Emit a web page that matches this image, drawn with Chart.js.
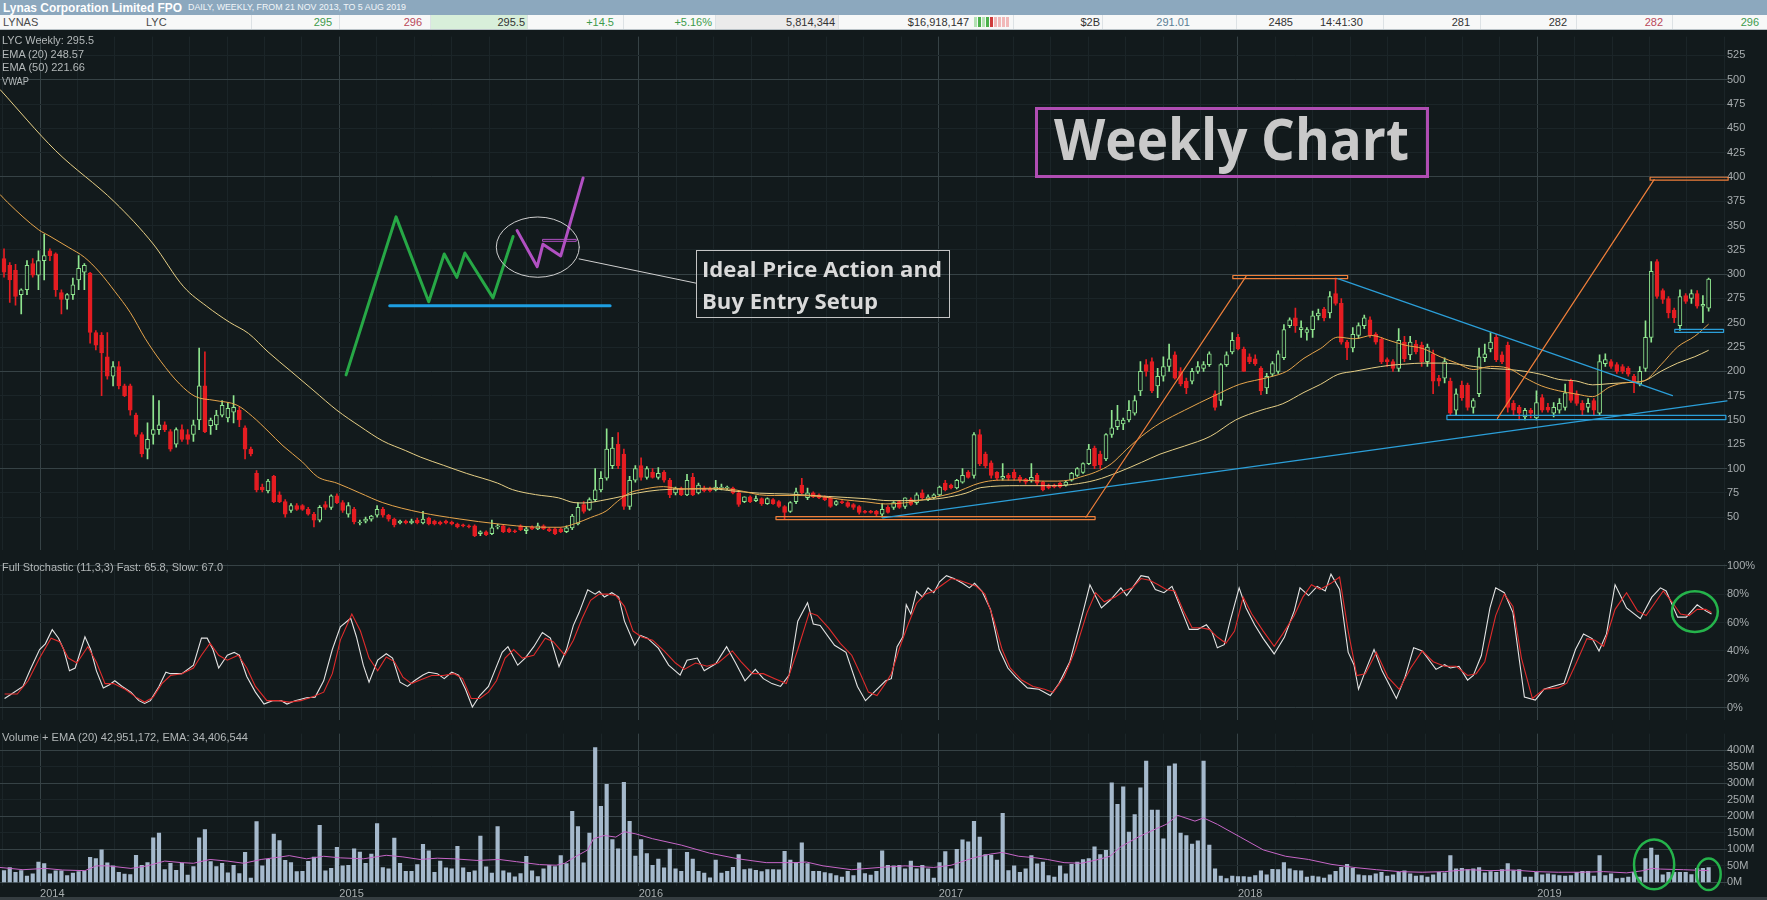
<!DOCTYPE html>
<html>
<head>
<meta charset="utf-8">
<title>LYC weekly</title>
<script src="https://cdn.jsdelivr.net/npm/chart.js@4.4.1/dist/chart.umd.min.js"></script>
<style>
  html, body { margin: 0; padding: 0; }
  body { width: 1767px; height: 900px; overflow: hidden; position: relative; background: #121a1c;
         font-family: 'Liberation Sans Narrow', 'Arial Narrow', 'Liberation Sans', sans-serif; }
  canvas { position: absolute; left: 0; }
  #price { top: 30px; }
  #stoch { top: 557px; }
  #vol { top: 727px; }
  #hdr { position: absolute; left: 0; top: 0; width: 1767px; height: 15px; background: #8ca8be; }
  #ttl { position: absolute; left: 3px; top: 0; font-weight: bold; font-size: 13px; line-height: 15px; color: #fff; }
  #sub { position: absolute; left: 188px; top: 0; font-size: 9px; line-height: 15px; color: #f2f6f9; }
  #quote { position: absolute; left: 0; top: 15px; width: 1767px; height: 14px; background: #f7f8f8;
           border-bottom: 1px solid #b9c2c7; font-size: 11px; color: #4a4a4a; }
  #quote span { position: absolute; top: 0; line-height: 14px; white-space: nowrap; }
  #quote i { position: absolute; top: 0; width: 1px; height: 14px; background: #dde2e5; }
  #quote b { position: absolute; top: 2px; width: 3px; height: 10px; }
  .fit { display: inline-block; white-space: nowrap; transform-origin: 0 50%; }
  .lbl { position: absolute; left: 2px; font-size: 11px; line-height: 13px; color: #b3b8b9; }
  #wk { position: absolute; left: 1035px; top: 107px; width: 388px; height: 65px; border: 3px solid #b04db3; }
  #wk span { position: absolute; left: 16px; top: 0; font: bold 57px/57px 'Open Sans', 'Lato', sans-serif; color: #c9c9c9; }
  #note { position: absolute; left: 696px; top: 250px; width: 252px; height: 66px; border: 1px solid #c4c4c4; }
  #note span { position: absolute; left: 5px; font: bold 22px/32px 'Open Sans', 'Lato', sans-serif; color: #dadada; }
  #foot { position: absolute; left: 0; top: 897px; width: 1767px; height: 3px; background: #353d41; }
</style>
</head>
<body>
<div id="hdr">
  <span id="ttl" class="fit" data-w="179">Lynas Corporation Limited FPO</span>
  <span id="sub" class="fit" data-w="218">DAILY, WEEKLY, FROM 21 NOV 2013, TO 5 AUG 2019</span>
</div>
<div id="quote">
  <div style="position:absolute;left:430px;top:0;width:97px;height:14px;background:#d8efda"></div>
  <div style="position:absolute;left:715px;top:0;width:123px;height:14px;background:#ebebeb"></div>
  <i style="left:251px"></i><i style="left:339px"></i><i style="left:430px"></i><i style="left:527px"></i>
  <i style="left:623px"></i><i style="left:715px"></i><i style="left:838px"></i><i style="left:1013px"></i>
  <i style="left:1102px"></i><i style="left:1236px"></i><i style="left:1383px"></i><i style="left:1480px"></i>
  <i style="left:1576px"></i><i style="left:1672px"></i>
  <span style="left:3px">LYNAS</span>
  <span style="left:146px">LYC</span>
  <span style="right:1435px;color:#3e9b4c">295</span>
  <span style="right:1345px;color:#b9485a">296</span>
  <span style="right:1242px;color:#333">295.5</span>
  <span style="right:1153px;color:#3e9b4c">+14.5</span>
  <span style="right:1055px;color:#3e9b4c">+5.16%</span>
  <span style="right:932px;color:#333">5,814,344</span>
  <span style="right:798px;color:#333">$16,918,147</span>
  <b style="left:974px;background:#b4e2b4"></b><b style="left:978px;background:#4bb04b"></b>
  <b style="left:982px;background:#b4e2b4"></b><b style="left:986px;background:#4bb04b"></b>
  <b style="left:990px;background:#cf3b3b"></b><b style="left:994px;background:#f1b8b8"></b>
  <b style="left:998px;background:#f1b8b8"></b><b style="left:1002px;background:#f1b8b8"></b>
  <b style="left:1006px;background:#f1b8b8"></b>
  <span style="right:667px;color:#333">$2B</span>
  <span style="right:577px;color:#5b7e95">291.01</span>
  <span style="right:474px;color:#333">2485</span>
  <span style="left:1320px;color:#333">14:41:30</span>
  <span style="right:297px;color:#333">281</span>
  <span style="right:200px;color:#333">282</span>
  <span style="right:104px;color:#b9485a">282</span>
  <span style="right:8px;color:#3e9b4c">296</span>
</div>

<canvas id="price" width="1767" height="527"></canvas>
<canvas id="stoch" width="1767" height="170"></canvas>
<canvas id="vol" width="1767" height="173"></canvas>

<div class="lbl" style="top:34px"><span class="fit" data-w="92">LYC Weekly: 295.5</span></div>
<div class="lbl" style="top:48px"><span class="fit" data-w="82">EMA (20) 248.57</span></div>
<div class="lbl" style="top:61px"><span class="fit" data-w="83">EMA (50) 221.66</span></div>
<div class="lbl" style="top:75px"><span class="fit" data-w="27">VWAP</span></div>
<div class="lbl" style="top:561px"><span class="fit" data-w="221">Full Stochastic (11,3,3) Fast: 65.8, Slow: 67.0</span></div>
<div class="lbl" style="top:731px"><span class="fit" data-w="246">Volume + EMA (20) 42,951,172, EMA: 34,406,544</span></div>

<div id="wk"><span class="fit" data-w="355">Weekly Chart</span></div>
<div id="note">
  <span class="fit" data-w="240" style="top:1px">Ideal Price Action and</span>
  <span class="fit" data-w="176" style="top:33px">Buy Entry Setup</span>
</div>
<div id="foot"></div>

<script>
// weekly bars, week 0 = w/c 18 Nov 2013, week 297 = w/c 5 Aug 2019 (prices in cents)
const opens = [
  316,309,304,279,284,311,299,314,324,321, 281,274,279,294,302,301,240,237,215,195,
  205,185,185,155,135,120,135,140,145,138, 125,140,135,135,150,185,144,145,155,152,
  158,160,142,120,95,81,77,92,73,66, 57,62,62,58,53,47,63,60,72,65,
  53,58,44,46,48,52,58,52,48,44, 46,44,47,44,49,46,45,46,45,43,
  42,41,41,33,35,33,40,41,38,36, 41,36,40,38,41,38,38,38,35,39,
  43,63,58,68,78,90,103,125,115,61, 88,103,91,96,91,96,88,75,80,73,
  91,75,80,79,78,80,80,80,75,66, 71,67,69,64,68,66,61,56,66,83,
  70,75,73,71,70,63,66,65,63,61, 56,56,56,53,60,60,66,61,68,65,
  75,68,70,73,85,83,80,86,96,93, 135,115,106,96,90,93,96,91,89,88,
  93,86,83,83,85,83,88,93,96,105, 121,115,110,135,143,146,150,157,180,207,
  210,185,195,205,217,200,190,190,200,203, 207,177,170,207,220,235,223,215,213,203,
  183,197,200,214,247,255,243,240,243,257, 264,260,280,270,230,224,237,247,253,238,
  233,212,210,203,230,217,228,227,210,218, 193,193,190,160,186,186,163,177,214,223,
  235,217,227,167,163,153,160,152,173,163, 157,160,163,190,177,167,163,170,157,208,
  210,207,205,203,195,187,203,235,313,283, 275,263,247,278,275,280,267,265
];
const highs = [
  326,312,310,285,314,316,324,341,326,322, 284,280,296,319,311,302,242,240,240,210,
  210,187,187,157,137,147,175,170,148,140, 142,145,140,150,224,220,152,160,170,168,
  175,163,144,122,98,84,89,93,76,68, 64,64,63,60,55,62,66,73,74,67,
  65,60,47,50,52,62,60,53,49,47, 47,48,49,56,50,47,46,47,46,44,
  43,42,42,36,36,47,43,42,39,37, 42,40,41,44,42,39,39,39,41,53,
  65,66,70,100,97,141,132,137,120,92, 103,111,102,100,101,98,90,81,81,94,
  95,85,82,81,88,84,82,81,76,71, 72,72,70,70,69,67,62,66,80,90,
  80,76,74,72,71,67,67,66,64,62, 57,57,57,64,62,66,67,70,70,75,
  78,73,74,82,88,84,89,100,98,137, 140,117,108,97,105,95,99,93,90,105,
  95,87,84,84,86,87,96,101,106,125, 123,118,136,160,165,152,170,175,210,212,
  214,203,215,228,220,204,193,203,210,210, 220,180,208,220,240,238,225,218,217,205,
  198,210,221,248,255,265,252,245,262,264, 266,282,296,275,232,245,250,258,256,240,
  235,214,212,244,236,236,232,230,228,222, 196,214,193,182,190,188,172,224,228,240,
  238,220,230,170,165,162,162,180,176,167, 168,172,187,192,180,170,172,172,217,218,
  212,209,207,205,197,205,252,313,315,285, 277,265,284,280,284,283,278,296
];
const lows = [
  297,271,268,259,279,297,284,294,314,277, 259,264,274,284,284,229,222,175,192,185,
  182,174,155,133,112,110,125,135,138,118, 122,128,125,128,140,137,135,140,153,148,
  147,143,110,113,76,76,75,65,65,50, 55,57,57,52,40,45,58,58,64,55,
  50,43,42,44,46,50,50,46,40,43, 43,43,43,43,42,42,42,43,42,39,
  40,39,30,31,31,32,38,34,34,34, 36,33,37,37,37,35,32,34,34,37,
  42,54,57,66,76,88,100,100,58,58, 86,88,89,90,89,86,70,73,72,72,
  72,74,76,76,77,78,78,74,61,65, 65,66,62,63,63,60,48,55,64,74,
  68,70,69,67,60,62,64,60,58,53, 54,54,51,50,54,58,59,59,62,63,
  69,67,69,72,77,79,79,85,90,90, 103,101,90,88,88,88,88,86,84,86,
  83,77,79,80,80,82,87,92,95,104, 100,100,108,132,140,140,148,155,175,195,
  178,173,190,200,192,185,177,187,198,200, 205,160,165,205,218,222,200,208,206,176,
  177,195,198,212,245,240,235,232,235,253, 252,255,268,228,212,220,234,244,235,228,
  208,205,200,200,210,212,218,205,205,177, 185,188,155,155,170,160,157,174,210,220,
  210,208,158,155,150,150,152,150,158,158, 153,157,160,168,165,155,158,155,155,205,
  203,198,198,195,178,185,200,230,275,270, 255,250,242,270,270,265,250,262
];
const closes = [
  302,294,277,284,309,299,314,319,319,284, 274,279,289,306,309,240,227,219,195,205,
  185,175,160,135,115,130,140,145,140,120, 140,130,130,145,185,138,150,155,165,162,
  163,150,120,115,78,78,87,66,66,53, 62,58,58,53,47,60,60,72,65,57,
  62,45,45,48,51,58,52,48,42,46, 44,46,44,48,43,43,43,44,43,40,
  41,40,31,35,32,39,41,35,35,35, 37,38,38,41,38,36,33,35,39,51,
  60,56,68,78,90,120,121,103,61,88, 100,91,100,91,95,88,73,80,73,88,
  73,83,77,77,81,81,81,75,63,71, 66,69,64,69,64,61,55,65,76,75,
  75,71,70,68,61,66,65,61,60,55, 55,55,53,58,55,65,60,70,63,73,
  70,71,73,81,78,80,88,93,91,135, 105,103,93,90,92,90,90,88,86,91,
  85,78,80,81,81,86,95,100,105,120, 103,104,135,142,150,150,160,170,200,200,
  180,195,205,213,193,187,183,200,205,207, 218,163,207,217,232,223,200,210,208,180,
  195,208,218,243,253,247,245,243,257,260, 255,277,270,230,224,238,247,255,237,230,
  210,210,203,232,213,230,220,210,225,190, 190,210,157,177,173,163,170,215,218,230,
  212,210,163,160,157,160,157,168,160,160, 163,167,178,170,167,160,167,160,210,212,
  205,200,200,197,188,200,235,303,277,274, 260,255,277,272,280,267,269,295
];
// weekly volume, millions of shares
const volumesM = [
  36,45,31,36,19,26,62,57,26,35, 35,21,28,33,34,76,72,99,59,50, 31,25,24,
  82,52,60,135,149,39,58,37,58,22, 48,135,160,63,48,58,29,52,27,91, 13,184,50,70,146,127,67,60,33,34, 64,77,
  173,35,43,106,50,52,102,92,58,86, 178,45,41,134,58,34,34,54,115,96, 31,65,44,41,109,44,31,35,140,47,
  28,169,35,29,17,27,79,35,18,41, 52,48,81,57,215,169,59,149,408,230, 297,130,102,303,185,80,130,87,52,71,
  44,101,41,34,91,71,34,28,14,68, 28,34,46,84,39,41,37,33,39,39, 38,94,68,60,
  120,57,34,34,30,27,21,16,34,21,59,27,22,34,96,52,
  50,52,41,65,41,52,41,13,60,93, 41,100,129,123,185,137,84,83,68,209, 36,50,31,41,81,56,62,21,16,50, 26,55,62,69,72,
  108,84,97,301,236,289,152,205,286,367, 219,219,132,352,359,149,142,116,126,367, 113,41,19,12,19,18,18,16,21,
  35,23,40,39,60,41,36,35,16,19, 17,13,23,34,46,55,43,23,21,21, 26,31,19,23,31,35,26,19,21,16, 23,31,29,
  81,41,43,39,41,45,29,33,31,39, 57,36,39,16,16,31,23,26,23,21, 19,21,31,34,34,19,81,21,26,12,
  13,16,31,16,72,104,83,23,31,31, 31,31,24,43,43,45
];
// [week, value]
const ema20 = [
  [-0.7,382],[0.6,374],[6,345.8],[8,339],[11.3,327.4],[14,317.4],[16.6,302.3],[19.3,282.3],[22,260.5],[24.6,233.8],
  [27.3,210.4],[30.6,187],[33.3,174.2],[36.6,170.2],[40.6,165.2],[43.3,153.5],[46,138.5],[48.6,123.4],[52,106.7],[54.6,91.6],
  [58,85],[62,74.9],[66,64.9],[72.6,54.8],[79.3,48.2],[86,43.1],[92.6,39.8],[96.9,39.6],[99.6,43.6],[102.2,49.6],
  [104.9,56.3],[106.9,66.3],[108.9,74.7],[111.6,79],[114.9,81.4],[118.2,79],[122.2,79.7],[126.2,79],[128.9,76.4],[131.6,73],
  [134.2,72.3],[138.2,72.3],[142.2,71.3],[146.2,68],[150.2,65.7],[153.6,63.6],[156.9,64.7],[160.2,68],[163.6,72.3],[166.2,76.4],
  [168.9,83],[170.9,86.4],[173.6,88.1],[176.9,88.1],[180.9,87.1],[183.6,87.1],[185.6,88.1],[187.6,91.4],[190.2,96.4],[192.9,104.8],
  [195.6,119.8],[198.2,133.2],[201.4,146.6],[205.7,160],[210.9,175],[215.3,186.7],[220.5,194.1],[223.5,200.1],[226.5,213.5],[229.4,223.5],
  [232.4,235.2],[235.3,233.5],[238.3,236.9],[241.3,231.9],[244.2,226.8],[247.2,223.5],[250.2,215.1],[253.1,208.5],[256.1,201.8],[259,205.1],
  [262,203.4],[265,193.4],[267.9,185],[270.9,180],[273.9,176.7],[276.8,174],[279.8,184],[282.7,188.4],[285.7,190.1],[288.7,206.8],
  [291.6,225.2],[294.6,236.2],[297,248.6]
];
const ema50 = [
  [-0.7,490],[9,427],[19.3,374],[26,331],[31.3,287],[35.3,267],[39.3,250.5],[42.6,239],[46,220],[50,200],
  [54,180],[58,160],[62,143.5],[66,128.4],[70,118.4],[72.6,111.7],[76.6,103.3],[80.6,95],[86,85],[88.6,78.3],
  [92.6,73.2],[96.6,69.9],[99.3,65],[100.9,64.6],[104.9,68],[107.6,71.3],[110.2,74.7],[114.2,78],[118.9,79],[123.6,79],
  [126.9,77],[131.6,74.7],[136.9,73.7],[143.6,71.3],[150.2,69],[154.2,67],[156.9,67],[160.9,68],[163.6,69.7],[167.6,74.7],
  [170.2,80.4],[176.9,82.4],[183.6,82.4],[186.2,83.7],[190.2,88.1],[194.2,96.4],[198.2,106.4],[201.4,114.8],[205.7,123.2],[210.2,133.2],
  [214.6,150],[219,160],[222.8,166.7],[226.5,178.4],[229.4,186.7],[232.4,196.8],[235.3,200.1],[238.3,203.4],[241.3,206.1],[244.2,207.5],
  [247.2,208.5],[250.2,208.5],[253.1,207.5],[256.1,205],[259,203],[262,202],[265,200],[267.9,196.8],[270.9,191.7],[273.9,190.1],
  [276.8,186.1],[279.8,187.4],[282.7,188.4],[285.7,190.1],[288.7,200.1],[291.6,208.5],[294.6,215.1],[297,221.7]
];
const volEma20 = [
  [-0.7,45.4],[3.3,38.6],[7.2,42.5],[10.2,37.6],[14.1,35.7],[16.1,50.2],[18.1,50.2],[22.1,42.5],[25,50.2],[28,64.7],
  [31,59.9],[33,58],[35.9,69.5],[38.9,64.7],[41.8,58],[44.8,69.5],[47.8,76.3],[49.7,81.1],[52.7,71.5],[55.7,79.2],
  [58.6,74.4],[62.6,71.5],[66.6,82.1],[69.5,77.3],[72.5,69.5],[75.5,73.4],[78.4,71.5],[82.4,66.6],[86.3,69.5],[89.3,62.8],
  [93.3,54.1],[96.2,52.1],[97.7,58],[99.2,74.4],[101.7,98.5],[102.7,132.3],[104.6,142],[106.6,137.2],[108.1,153.6],[110.1,146.8],
  [113,132.3],[118,113],[122.9,88.8],[127.9,71.5],[132.8,59.9],[137.8,59.9],[139.8,61.8],[142.7,50.2],[147.7,38.6],[152.6,45.4],
  [157,50.2],[162,45.4],[165,52.1],[168.9,74.4],[171.9,86],[173.9,90.8],[176.8,79.2],[179.8,74.4],[181.8,69.5],[184.7,59.9],
  [187.7,58],[190.7,69.5],[192.7,79.2],[194.6,108.2],[197.6,137.2],[200.6,161.3],[202.5,175.8],[204.5,202.9],[207.5,185.5],[209,195.1],
  [211.4,175.8],[215.4,137.2],[219.4,98.5],[223.3,79.2],[227.3,69.5],[231.2,55],[235.2,45.4],[239.1,38.6],[243.1,32.8],[247.1,30.9],
  [251,32.8],[255,38.6],[258.9,35.7],[262.9,37.6],[266.8,32.8],[270.8,30.9],[274.8,30.9],[278.7,32.8],[282.7,29],[285.6,35.7],
  [287.1,42.5],[288.6,40.5],[292.6,38.6],[297,35.7]
];
const stochFast = [
  [0.1,6.5],[1.3,9.7],[3.3,15],[4.7,28],[6.2,41],[7.2,45],[8.4,55],[9.5,49],[10.4,41],[11.4,26],
  [12.4,28],[14.1,50],[15.1,41],[16.1,26],[17.3,14],[18.3,16],[19.3,19],[20.6,15],[22.1,11],[23.5,5],
  [24.5,3],[25.5,5],[27,15],[28.2,25],[29,24],[31,24],[33,30],[34.4,49],[35.4,49],[36.4,41],
  [37.4,28],[38.9,37],[40.1,39],[41,37],[42.3,22],[43.8,11],[45.3,2.6],[46.8,5],[48.3,5],[49.3,2.6],
  [50.7,5],[52.7,7],[54.2,7.5],[55.7,19],[57.2,41],[58.6,57],[60.4,63],[61.4,50],[62.6,30],[63.6,18],
  [65.1,33.5],[66.6,38],[67.7,35],[69,18],[70.3,15],[71.5,19],[73,23],[74,25],[75.5,24],[76.7,20.5],
  [78,25],[79.2,23],[80.4,13],[81.6,0.5],[82.9,8.6],[84.4,15],[85.6,27],[86.8,39],[87.8,43],[89.5,30],
  [90.8,35],[92.3,43],[93.8,53],[95.2,49],[96.7,29],[98,41],[99.2,58],[100.2,67],[101.7,83],[103,80],
  [103.7,82],[104.6,78],[105.9,81],[107.1,78],[108.1,61],[109.9,44],[110.9,51],[112.1,49],[114,42],[115.8,30],
  [117.8,23],[119,33.5],[120.8,35],[122,26],[124,31],[125.9,43],[127.4,32],[129.1,19],[130.9,27],[132.3,20.5],
  [133.8,17],[135.3,15],[136.8,23],[138.3,61],[140,74],[141,59],[142.2,58],[144.7,44],[146.7,39],[148.7,15],
  [150.1,5],[151.6,11],[153.6,19],[154.6,20.5],[155.6,43],[156.6,50],[157.2,72.5],[158,66],[159,82],[160,78],
  [161,84.4],[162,81],[163,88.7],[164.2,93],[165.5,91],[167,87.6],[168.2,84.4],[169.1,87.6],[170.4,82],[171.9,69],
  [173.4,41],[174.9,28],[176.3,21.6],[178.3,14],[180.3,13],[182.3,8.6],[183.8,17],[185.7,32.4],[187.7,62.7],[189.2,86.6],
  [191.2,70.3],[192.7,75.7],[194.6,84.4],[195.6,79],[196.6,84.4],[198.1,93],[199.4,92],[200.6,83.3],[202.1,81],[203.5,85.5],
  [205,70.3],[206.5,55.2],[208,55.2],[209.5,58.4],[210.5,53],[211.4,42.2],[212.6,44.4],[213.6,60.6],[215.2,84.4],[216.4,70.3],
  [217.9,58.4],[219.4,48.7],[221.3,37.9],[223.1,49.8],[224.8,68.2],[225.8,84.4],[227.3,79],[228.8,85.5],[230.2,82.2],[231.2,94.1],
  [232.7,83.3],[234.2,39],[235.2,30.3],[236,13],[237.2,26],[238.7,41],[240.1,26],[242.6,6.5],[244.1,21.6],[245.6,42.2],
  [247.1,40],[249.5,27],[251,30.3],[252,28],[253.5,29.2],[255,19.5],[256,22.7],[257.4,36.8],[258.9,70.3],[259.9,84.4],
  [261.4,81],[262.9,67],[264.9,7.5],[266.8,5.4],[268.3,13],[269.8,15],[271.8,17.3],[273.8,41],[275.2,52],[276.7,48.7],
  [277.9,40],[279.2,52],[280.7,86.6],[282.7,70.3],[285.1,62.7],[287.1,77.9],[288.6,84.4],[289.6,82.2],[291.6,63.8],[293.1,63.8],
  [295,72.5],[296.5,68.2],[297.5,66]
];
const stochSlow = [
  [0.1,9.7],[2.3,9.7],[4.2,19],[6.2,35],[8.2,49],[9.7,46.5],[11.2,35],[12.7,31.5],[14.6,43],[16.1,32],
  [17.6,17],[19.1,17],[21.1,13],[23,7.5],[24.5,4],[26,7.5],[27.5,17],[29,22.7],[31,24],[33,28],
  [34.4,37],[35.9,45.4],[37.4,37],[38.9,33.5],[40.8,37],[42.3,28],[43.8,15],[45.8,5],[47.8,5],[49.7,4],
  [51.7,5],[53.7,7.5],[55.7,11],[57.2,24],[58.6,47.6],[60.6,66],[62.1,54],[63.6,35],[65.1,26],[66.6,35.7],
  [68,32.5],[69.5,21.6],[71,17],[72.5,19.5],[74.5,22.7],[76.5,22.7],[78.4,24],[79.9,20.5],[81.4,6.5],[82.9,6.5],
  [84.4,11],[85.8,19],[87.3,35],[88.8,41],[90.3,35],[92.3,37],[94.3,49],[95.7,46.5],[97.7,37],[99.2,47.6],
  [100.7,62.7],[102.2,75.7],[103.7,80],[105.1,80],[106.6,79],[108.1,71.4],[109.6,54],[111.1,49.8],[113,47.6],[115,40],
  [117,31.5],[118.5,27],[120.5,31.5],[122.5,29.2],[124.4,31.5],[126.9,40],[128.4,32.5],[130.4,24],[132.3,24],[134.3,20.5],
  [136.3,17],[138.3,41],[140.3,67],[141.7,65],[143.7,56],[145.7,45.4],[147.7,37],[149.2,24],[150.6,11],[152.1,8.6],
  [153.6,17.3],[154.6,24],[156.1,43],[157.5,58.4],[159,73.6],[160.5,80],[162,82.2],[163.5,86.6],[165,91],[166.4,89.8],
  [167.9,87.6],[169.4,85.5],[170.9,80],[172.4,62.7],[173.9,41],[175.3,28],[177.3,19.5],[179.3,15],[181.3,13],[182.8,10.8],
  [184.7,21.6],[186.7,41],[188.7,67],[190.2,81],[191.7,74.6],[193.6,77.9],[195.1,82.2],[196.6,84.4],[198.1,91],[199.6,89.8],
  [201.1,86.6],[202.5,83.3],[204,82.2],[205.5,68.2],[207,56.3],[208.5,56.3],[210,55.2],[211.4,49.8],[212.9,45.4],[214.4,54],
  [215.9,77.9],[217.4,66],[219.4,54],[221.3,43.3],[222.8,52],[224.8,64.9],[226.3,77.9],[227.8,86.6],[229.3,83.3],[231.2,87.6],
  [232.7,92],[234.2,54],[235.7,22.7],[237.2,24],[239.1,39],[241.1,21.6],[243.1,13],[245.1,28],[247.1,40],[249,32.4],
  [251,29.2],[253,29.2],[255,22.7],[256.5,24],[258,32.4],[259.9,64.9],[261.4,80],[262.9,71.4],[264.4,34.6],[266.3,6.5],
  [268.3,13],[270.8,14],[272.3,17.3],[273.8,30.3],[275.8,48.7],[277.2,47.6],[278.7,43.3],[280.7,69.3],[282.7,81],[284.6,68.2],
  [286.1,64.9],[287.6,73.6],[289.1,82.2],[290.6,74.6],[292.1,66],[293.6,64.9],[295,69.3],[296.5,69.3],[297.5,67]
];

// hand-drawn chart annotations, in [week, value] units
const priceMarks = [
  { kind: 'path', color: '#27a846', width: 3, pts: [[59.6,196.4],[68.3,358.9],[74.0,271.6],[76.7,320.8],[78.9,296.7],[80.3,321.8],[85.2,275.6],[88.7,338.8]] },
  { kind: 'path', color: '#b150c2', width: 3, pts: [[89.4,344.8],[92.9,307.7],[93.9,330.8],[97.0,318.8],[100.9,399]] },
  { kind: 'box', color: '#b150c2', width: 1, x0: 93.9, x1: 99.7, y0: 333.8, y1: 335.8 },
  { kind: 'path', color: '#1e9fe2', width: 3, pts: [[67.2,267.6],[105.6,267.6]] },
  { kind: 'ring', color: '#cfcfcf', width: 1, cx: 93.0, cy: 327.8, rx: 7.23, ry: 31 },
  { kind: 'path', color: '#cfcfcf', width: 1, pts: [[100.2,315.7],[120.6,290.7]] },
  { kind: 'box', color: '#ef7f3a', width: 1.2, x0: 134.5, x1: 190.1, y0: 47.5, y1: 50.5 },
  { kind: 'path', color: '#2b9fd9', width: 1.2, pts: [[153.1,49.3],[300.2,169.7]] },
  { kind: 'path', color: '#ef7f3a', width: 1.2, pts: [[188.5,49.9],[216.4,297.7]] },
  { kind: 'box', color: '#ef7f3a', width: 1.2, x0: 214.1, x1: 234.1, y0: 295.4, y1: 298.6 },
  { kind: 'path', color: '#2b9fd9', width: 1.2, pts: [[232.4,295.4],[290.7,175]] },
  { kind: 'box', color: '#2b9fd9', width: 1.2, x0: 251.4, x1: 300, y0: 150.4, y1: 154.8 },
  { kind: 'path', color: '#ef7f3a', width: 1.2, pts: [[260.2,151.6],[287.5,397.3]] },
  { kind: 'box', color: '#ef7f3a', width: 1.2, x0: 286.8, x1: 300.4, y0: 396.7, y1: 399.7 },
  { kind: 'box', color: '#2b9fd9', width: 1.2, x0: 291.1, x1: 299.6, y0: 240.2, y1: 243.2 }
];
const stochMarks = [
  { kind: 'ring', color: '#25b34b', width: 2.5, cx: 294.6, cy: 67.7, rx: 4.0, ry: 14.3 }
];
const volMarks = [
  { kind: 'ring', color: '#25b34b', width: 2.5, cx: 287.5, cy: 54.5, rx: 3.5, ry: 75.4 },
  { kind: 'ring', color: '#25b34b', width: 2.5, cx: 297.0, cy: 24.9, rx: 2.1, ry: 47.8 }
];

const BG = '#121a1c';
const UP = '#8fe58f', DOWN = '#e51d22';
const GRID_MAJOR = '#364245', GRID_MINOR = '#1b2528';
const TICK_COLOR = '#a7adaf';

Chart.defaults.font.family = "'Liberation Sans Narrow', 'Arial Narrow', 'Liberation Sans', sans-serif";
Chart.defaults.font.size = 11;

const weeks = closes.map((c, i) => i);
const rising = weeks.map(i => closes[i] >= opens[i]);
const toPts = arr => arr.map(([x, y]) => ({ x, y }));

// x axis: week index, gridlines at year starts and every eighth of a year
const X_MIN = -0.7, X_MAX = 300.2;
const YEAR_AT = [6.29, 58.43, 110.57, 162.86, 215.0, 267.14];
const YEAR_NAMES = ['2014', '2015', '2016', '2017', '2018', '2019'];
const xGrid = [];
const eighth = 52.14 / 8;
for (let v = YEAR_AT[0] - eighth; v > X_MIN; v -= eighth) xGrid.push(v);
YEAR_AT.forEach((y, k) => {
  const next = k + 1 < YEAR_AT.length ? YEAR_AT[k + 1] : y + 52.14;
  for (let j = 0; j < 8; j++) {
    const v = y + j * (next - y) / 8;
    if (v < X_MAX) xGrid.push(v);
  }
});
xGrid.sort((a, b) => a - b);
const yearIndex = v => YEAR_AT.findIndex(y => Math.abs(y - v) < 1e-6);

function xScale(showLabels) {
  return {
    type: 'linear', min: X_MIN, max: X_MAX, offset: false,
    grid: { color: c => yearIndex(c.tick.value) >= 0 ? GRID_MAJOR : GRID_MINOR, drawTicks: false, offset: false },
    border: { display: false },
    afterBuildTicks: s => { s.ticks = xGrid.map(value => ({ value })); },
    afterFit: s => { s.height = showLabels ? 14 : 0; },
    ticks: showLabels
      ? { display: true, autoSkip: false, maxRotation: 0, align: 'start', padding: 1, color: TICK_COLOR,
          callback: v => { const k = yearIndex(v); return k < 0 ? '' : YEAR_NAMES[k]; } }
      : { display: false }
  };
}

function yScale(min, max, from, to, step, major, fmt) {
  const vals = [];
  for (let v = from; v <= to; v += step) vals.push(v);
  return {
    position: 'right', min, max,
    grid: { color: c => (c.tick && c.tick.value % major === 0) ? GRID_MAJOR : GRID_MINOR, drawTicks: false },
    border: { display: false },
    afterBuildTicks: s => { s.ticks = vals.map(value => ({ value })); },
    afterFit: s => { s.width = 40; },
    ticks: { color: TICK_COLOR, padding: 0, crossAlign: 'near', callback: fmt }
  };
}

function marksPlugin(id, marks) {
  return {
    id,
    afterDatasetsDraw(chart) {
      const { ctx, scales: { x, y } } = chart;
      const px = v => x.getPixelForValue(v), py = v => y.getPixelForValue(v);
      ctx.save();
      ctx.lineJoin = 'round';
      ctx.lineCap = 'round';
      marks.forEach(m => {
        ctx.strokeStyle = m.color;
        ctx.lineWidth = m.width;
        ctx.beginPath();
        if (m.kind === 'path') {
          m.pts.forEach(([wx, wy], k) => k ? ctx.lineTo(px(wx), py(wy)) : ctx.moveTo(px(wx), py(wy)));
        } else if (m.kind === 'box') {
          ctx.rect(px(m.x0), py(m.y1), px(m.x1) - px(m.x0), py(m.y0) - py(m.y1));
        } else if (m.kind === 'ring') {
          ctx.ellipse(px(m.cx), py(m.cy), Math.abs(px(m.cx + m.rx) - px(m.cx)),
                      Math.abs(py(m.cy + m.ry) - py(m.cy)), 0, 0, Math.PI * 2);
        }
        ctx.stroke();
      });
      ctx.restore();
    }
  };
}

const common = {
  responsive: false, animation: false, devicePixelRatio: 1, events: [],
  layout: { padding: 0 },
  plugins: { legend: { display: false }, tooltip: { enabled: false } }
};

new Chart(document.getElementById('price'), {
  type: 'bar',
  data: {
    datasets: [
      { type: 'bar', label: 'range', grouped: false, order: 3, barThickness: 1,
        data: weeks.map(i => ({ x: i, y: [lows[i], highs[i]] })),
        backgroundColor: weeks.map(i => rising[i] ? UP : DOWN) },
      { type: 'bar', label: 'body', grouped: false, order: 2, barThickness: 4,
        data: weeks.map(i => ({ x: i, y: [Math.min(opens[i], closes[i]), Math.max(opens[i], closes[i])] })),
        backgroundColor: weeks.map(i => rising[i] ? BG : DOWN),
        borderColor: weeks.map(i => rising[i] ? UP : DOWN),
        borderWidth: 1, borderSkipped: false },
      { type: 'line', label: 'EMA (50)', order: 1, data: toPts(ema50), borderColor: '#e6cf86', borderWidth: 1,
        pointRadius: 0, cubicInterpolationMode: 'monotone' },
      { type: 'line', label: 'EMA (20)', order: 0, data: toPts(ema20), borderColor: '#e6a54c', borderWidth: 1,
        pointRadius: 0, cubicInterpolationMode: 'monotone' }
    ]
  },
  options: Object.assign({}, common, {
    scales: { x: xScale(false), y: yScale(15.8, 544.4, 50, 525, 25, 100, v => String(v)) }
  }),
  plugins: [marksPlugin('priceMarks', priceMarks)]
});

new Chart(document.getElementById('stoch'), {
  type: 'line',
  data: {
    datasets: [
      { label: 'Fast', order: 1, data: toPts(stochFast), borderColor: '#e4e4e4', borderWidth: 1.1, pointRadius: 0 },
      { label: 'Slow', order: 0, data: toPts(stochSlow), borderColor: '#e02c2c', borderWidth: 1.1, pointRadius: 0 }
    ]
  },
  options: Object.assign({}, common, {
    scales: { x: xScale(false), y: yScale(-8.9, 101.5, 0, 100, 20, 100, v => v + '%') }
  }),
  plugins: [marksPlugin('stochMarks', stochMarks)]
});

new Chart(document.getElementById('vol'), {
  type: 'bar',
  data: {
    datasets: [
      { type: 'bar', label: 'Volume', grouped: false, order: 1, barThickness: 3.5,
        data: weeks.map(i => ({ x: i, y: volumesM[i] })), backgroundColor: '#a5b9cc' },
      { type: 'line', label: 'EMA (20)', order: 0, data: toPts(volEma20), borderColor: '#c766c7', borderWidth: 1,
        pointRadius: 0 }
    ]
  },
  options: Object.assign({}, common, {
    scales: { x: xScale(true), y: yScale(-10.7, 450.1, 0, 400, 50, 100, v => v + 'M') }
  }),
  plugins: [marksPlugin('volMarks', volMarks)]
});

// squeeze text runs to the widths they have on the original screenshot
function fitText() {
  document.querySelectorAll('.fit').forEach(el => {
    el.style.transform = 'none';
    const w = el.getBoundingClientRect().width;
    if (w > 0) el.style.transform = 'scaleX(' + (el.dataset.w / w) + ')';
  });
}
fitText();
if (document.fonts && document.fonts.ready) document.fonts.ready.then(fitText);
</script>
</body>
</html>
